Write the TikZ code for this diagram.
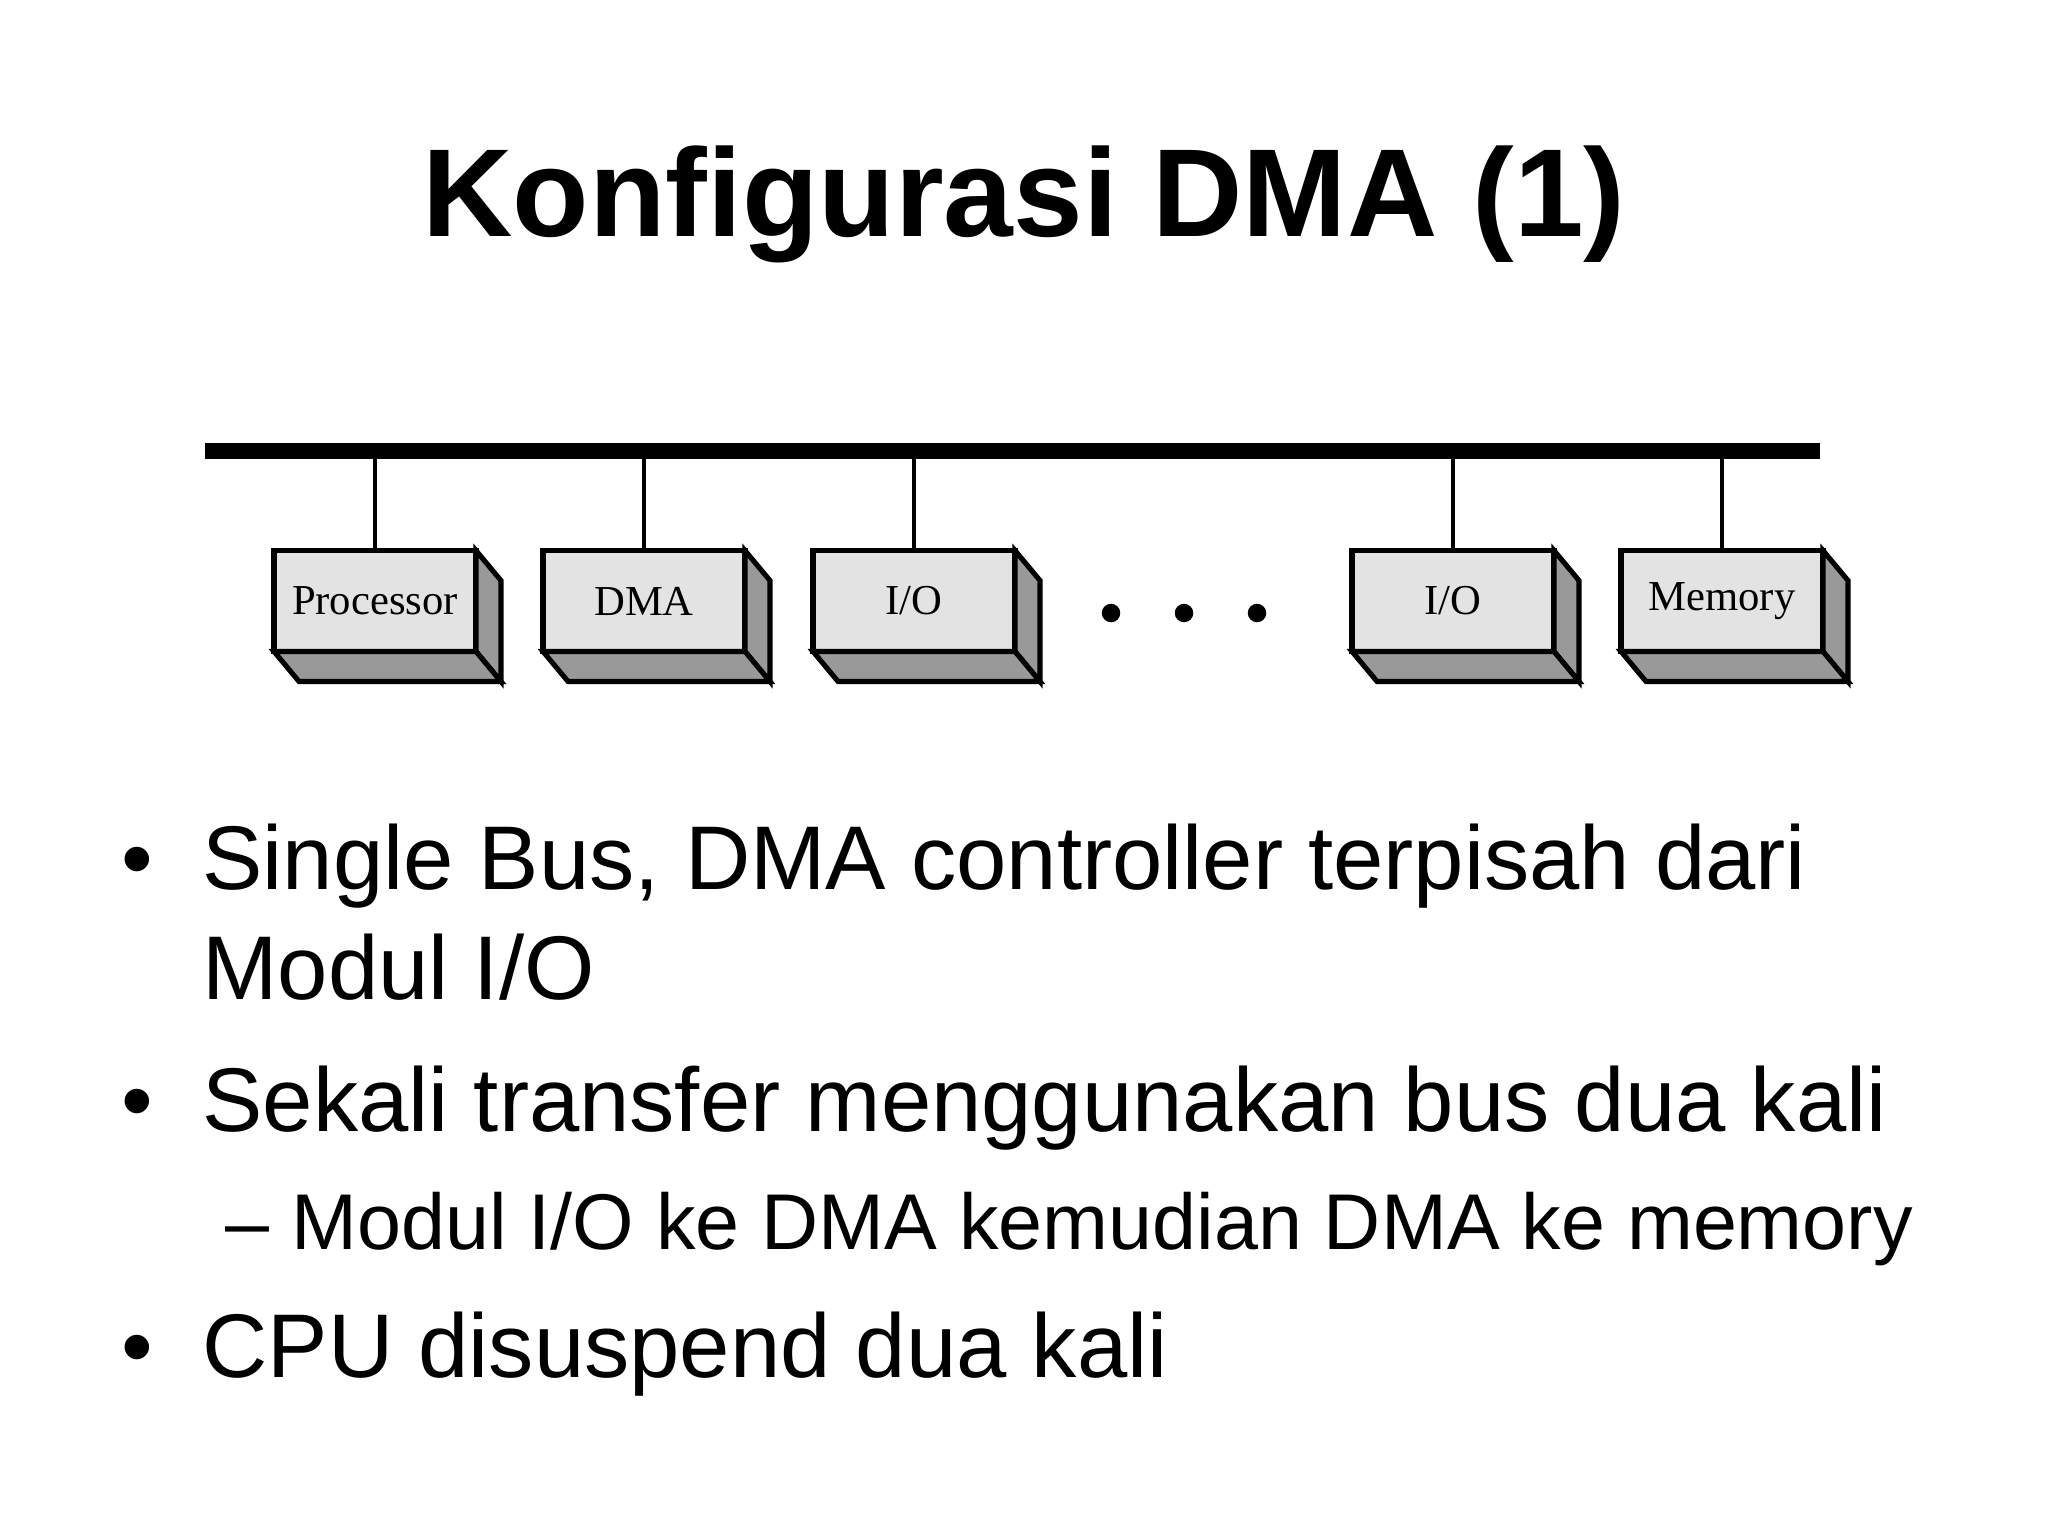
\documentclass[tikz,border=0pt]{standalone}
\usepackage{fontspec}
\setmainfont{Liberation Sans}
\newfontfamily\figfont{Liberation Serif}
\usepackage{xcolor}
\usepackage{tikz}
\usetikzlibrary{positioning}
\usetikzlibrary{calc}

\definecolor{frontgray}{gray}{0.89}
\definecolor{sidegray}{gray}{0.60}

\begin{document}
\begin{tikzpicture}
  [
    x=0.3516pt, y=-0.3516pt,
    unit/.style={draw=black, fill=frontgray, line width=1.8pt,
      outer sep=0pt, inner sep=0pt, minimum width=71pt, minimum height=35.5pt,
      font=\figfont\fontsize{15}{18}\selectfont},
    face/.style={draw=black, fill=sidegray, line width=1.8pt},
    stem/.style={line width=1.1pt},
    bus/.style={line width=5.6pt},
    item/.style={anchor=base west, inner sep=0pt, font=\fontsize{31.8}{38}\selectfont},
    subitem/.style={anchor=base west, inner sep=0pt, font=\fontsize{27.8}{34}\selectfont},
    dot/.style={circle, fill=black, inner sep=0pt, minimum size=6.5pt}
  ]
  \useasboundingbox [fill=white] (0,0) rectangle (2048,1536);

  % title
  \node (title) at (1024,236) [anchor=base, inner sep=0pt,
    font=\bfseries\fontsize{44}{52}\selectfont] {Konfigurasi DMA (1)};

  % the single bus
  \coordinate (busL) at ( 205,451);
  \coordinate (busR) at (1820,451);

  % modules on the bus
  \node  (proc) at ( 375,601) [unit] {Processor};
  \node   (dma) at ( 644,601) [unit] {DMA};
  \node   (io1) at ( 914,601) [unit] {I/O};
  \node   (io2) at (1453,601) [unit] {I/O};
  \node   (mem) at (1722,601) [unit] {Memory};

  % side and bottom faces
  \draw [face] (proc.north east) -- ++(25,30) -- ($(proc.south east)+(25,30)$) -- (proc.south east) -- cycle;
  \draw [face] (proc.south west) -- (proc.south east) -- ++(25,30) -- ($(proc.south west)+(25,30)$) -- cycle;
  \draw [face] (dma.north east) -- ++(25,30) -- ($(dma.south east)+(25,30)$) -- (dma.south east) -- cycle;
  \draw [face] (dma.south west) -- (dma.south east) -- ++(25,30) -- ($(dma.south west)+(25,30)$) -- cycle;
  \draw [face] (io1.north east) -- ++(25,30) -- ($(io1.south east)+(25,30)$) -- (io1.south east) -- cycle;
  \draw [face] (io1.south west) -- (io1.south east) -- ++(25,30) -- ($(io1.south west)+(25,30)$) -- cycle;
  \draw [face] (io2.north east) -- ++(25,30) -- ($(io2.south east)+(25,30)$) -- (io2.south east) -- cycle;
  \draw [face] (io2.south west) -- (io2.south east) -- ++(25,30) -- ($(io2.south west)+(25,30)$) -- cycle;
  \draw [face] (mem.north east) -- ++(25,30) -- ($(mem.south east)+(25,30)$) -- (mem.south east) -- cycle;
  \draw [face] (mem.south west) -- (mem.south east) -- ++(25,30) -- ($(mem.south west)+(25,30)$) -- cycle;

  \node (dot1) at (1111,613) [dot] {};
  \node (dot2) at (1184,613) [dot] {};
  \node (dot3) at (1257,613) [dot] {};

  \draw [stem] (proc.north) -- (proc.north |- busL);
  \draw [stem] (dma.north) -- (dma.north |- busL);
  \draw [stem] (io1.north) -- (io1.north |- busL);
  \draw [stem] (io2.north) -- (io2.north |- busL);
  \draw [stem] (mem.north) -- (mem.north |- busL);
  \draw [bus] (busL) -- (busR);

  % bullet points
  \node (b1) at (121, 889) [item] {•};
  \node (t1a) at (202, 889) [item] {Single Bus, DMA controller terpisah dari};
  \node (t1b) at (202, 999) [item] {Modul I/O};
  \node (b2) at (121,1131) [item] {•};
  \node (t2) at (202,1131) [item] {Sekali transfer menggunakan bus dua kali};
  \node (t2a) at (225,1249) [subitem] {– Modul I/O ke DMA kemudian DMA ke memory};
  \node (b3) at (121,1377) [item] {•};
  \node (t3) at (202,1377) [item] {CPU disuspend dua kali};
\end{tikzpicture}
\end{document}
